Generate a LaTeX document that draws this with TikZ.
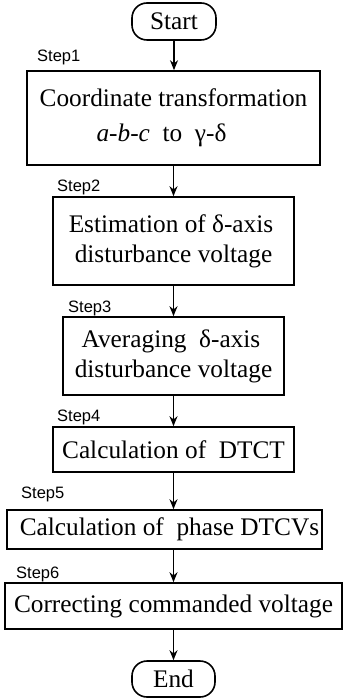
\documentclass[tikz,border=0pt]{standalone}
\usepackage{fontspec}
\setmainfont{Liberation Serif}
\newfontfamily\labelfont{Liberation Sans}
\usetikzlibrary{arrows.meta}

\tikzset{
  stepbox/.style={draw, line width=1.6pt, inner sep=0pt, align=center,
    font=\fontsize{25.3}{30}\selectfont},
  terminal/.style={stepbox, rounded corners=15pt},
  steplabel/.style={anchor=base west, inner sep=0pt,
    font=\labelfont\fontsize{16.5}{18}\selectfont},
  flow/.style={line width=1.4pt, -{Stealth[length=10pt,width=8pt]}}
}

\begin{document}
\begin{tikzpicture}[x=1pt, y=-1pt]
  \useasboundingbox (0,0) rectangle (343,700);

  % terminals and process boxes
  \node[terminal, minimum width=84pt, minimum height=37pt] (start) at (174,21.5) {Start};
  \node[stepbox, minimum width=293pt, minimum height=94pt,
        font=\fontsize{25.3}{35}\selectfont] (s1) at (173.5,118)
    {Coordinate transformation\\
     \textit{a}-\textit{b}-\textit{c}\ \ to\ \ γ-δ\hspace*{24pt}};
  \node[stepbox, minimum width=241pt, minimum height=88pt] (s2) at (173.5,241)
    {Estimation of δ-axis\hspace*{5pt}\\disturbance voltage};
  \node[stepbox, minimum width=221pt, minimum height=78pt] (s3) at (173.5,356)
    {Averaging\ \ δ-axis\hspace*{5pt}\\disturbance voltage};
  \node[stepbox, minimum width=241pt, minimum height=45pt] (s4) at (173.5,449.5)
    {Calculation of\ \ DTCT};
  \node[stepbox, minimum width=315pt, minimum height=39pt] (s5) at (164.5,529.5)
    {\hspace*{10pt}Calculation of\ \ phase DTCVs};
  \node[stepbox, minimum width=337pt, minimum height=46pt] (s6) at (173.5,606)
    {Correcting commanded voltage};
  \node[terminal, minimum width=83pt, minimum height=36pt] (end) at (173.5,679) {End};

  % step labels
  \node[steplabel] (l1) at (37,62)  {Step1};
  \node[steplabel] (l2) at (57,192) {Step2};
  \node[steplabel] (l3) at (68,312) {Step3};
  \node[steplabel] (l4) at (57,421) {Step4};
  \node[steplabel] (l5) at (21,498) {Step5};
  \node[steplabel] (l6) at (16,578) {Step6};

  % connectors
  \draw[flow] (start.south) -- (start.south |- s1.north);
  \draw[flow] (s1.south) -- (s1.south |- s2.north);
  \draw[flow] (s2.south) -- (s2.south |- s3.north);
  \draw[flow] (s3.south) -- (s3.south |- s4.north);
  \draw[flow] (s4.south) -- (s4.south |- s5.north);
  \draw[flow] (s5.south -| s4.south) -- (s4.south |- s6.north);
  \draw[flow] (s6.south) -- (s6.south |- end.north);
\end{tikzpicture}
\end{document}
